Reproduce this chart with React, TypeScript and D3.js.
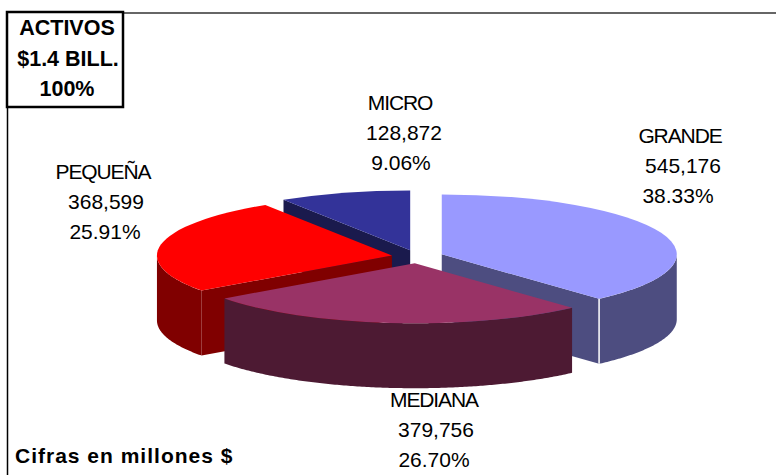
import React from 'react';
import * as d3 from 'd3';

// Figures from the chart, in clockwise order starting at 12 o'clock
const names = ['GRANDE', 'MEDIANA', 'PEQUEÑA', 'MICRO'];
const values = [545176, 379756, 368599, 128872];
const valueLabels = ['545,176', '379,756', '368,599', '128,872'];
const percentLabels = ['38.33%', '26.70%', '25.91%', '9.06%'];
const boxLines = ['ACTIVOS', '$1.4 BILL.', '100%'];
const footnote = 'Cifras en millones $';

const topColors = ['#9999ff', '#993366', '#ff0000', '#333399'];
const sideColors = ['#4d4d80', '#4d1a33', '#800000', '#1a1a4d'];

const width = 776;
const height = 475;
const cx = 417.5;
const cy = 256.7;
const rx = 235;
const tilt = 0.255;
const depth = 65;
const explode = 26;
const font = '"Liberation Sans", Arial, sans-serif';

// label anchor (centre x of each line, first baseline) per slice
const labelPos = [
  { x: [680, 683, 678], y: 143 },
  { x: [434, 436, 434], y: 407 },
  { x: [103, 106, 105], y: 179 },
  { x: [400, 404, 401], y: 110 },
];

const arcs = d3.pie<number>().sort(null)(values);

const project = (a: number, r: number) => [r * Math.sin(a), -r * tilt * Math.cos(a)];

// outer wall of a slice, only the part that faces the viewer
function rimPath(start: number, end: number) {
  const from = Math.max(start, Math.PI / 2);
  const to = Math.min(end, (3 * Math.PI) / 2);
  if (to <= from) return null;
  const angles = d3.range(from, to, 0.01).concat(to);
  return d3.area<number>()
    .x(a => project(a, rx)[0])
    .y0(a => project(a, rx)[1])
    .y1(a => project(a, rx)[1] + depth)(angles);
}

// flat cut wall running from the centre out to the rim
function cutPath(a: number) {
  const [x, y] = project(a, rx);
  return d3.line()([[0, 0], [x, y], [x, y + depth], [0, depth]]) + 'Z';
}

// which cut wall can be seen for each slice (none for MEDIANA)
const cutAngle = (i: number) => {
  if (i === 0) return arcs[0].endAngle;
  if (i === 2) return arcs[2].startAngle;
  if (i === 3) return arcs[3].startAngle;
  return null;
};

const topArc = d3.arc<d3.PieArcDatum<number>>().innerRadius(0).outerRadius(rx);

const drawOrder = [3, 2, 0, 1];

export default function App() {
  return (
    <svg
      width={width}
      height={height}
      viewBox={`0 0 ${width} ${height}`}
      style={{ position: 'absolute', left: 0, top: 0, background: '#fff' }}
      fontFamily={font}
    >
      <line x1={7.5} y1={12} x2={7.5} y2={height} stroke="#000" strokeWidth={1.5} />
      <line x1={7} y1={13} x2={width} y2={13} stroke="#333" strokeWidth={1.5} />

      {drawOrder.map(i => {
        const d = arcs[i];
        const mid = (d.startAngle + d.endAngle) / 2;
        const [ox, oy] = project(mid, explode);
        const cut = cutAngle(i);
        const rim = rimPath(d.startAngle, d.endAngle);
        return (
          <g key={names[i]} transform={`translate(${cx + ox},${cy + oy})`}>
            {cut !== null && <path d={cutPath(cut)} fill={sideColors[i]} />}
            {rim && <path d={rim} fill={sideColors[i]} />}
            {i === 0 && (
              <line
                x1={project(d.endAngle, rx)[0]}
                x2={project(d.endAngle, rx)[0]}
                y1={project(d.endAngle, rx)[1]}
                y2={project(d.endAngle, rx)[1] + depth}
                stroke="#fff"
                strokeWidth={1.5}
              />
            )}
            <path d={topArc(d) as string} transform={`scale(1,${tilt})`} fill={topColors[i]} />
          </g>
        );
      })}

      {names.map((name, i) => (
        <g key={name} fontSize={21} fill="#000" textAnchor="middle">
          <text x={labelPos[i].x[0]} y={labelPos[i].y} letterSpacing={-1.1}>{name}</text>
          <text x={labelPos[i].x[1]} y={labelPos[i].y + 30}>{valueLabels[i]}</text>
          <text x={labelPos[i].x[2]} y={labelPos[i].y + 60}>{percentLabels[i]}</text>
        </g>
      ))}

      <rect x={7} y={12} width={116} height={95} fill="#fff" stroke="#000" strokeWidth={2.5} />
      {boxLines.map((line, i) => (
        <text
          key={line}
          x={i === 1 ? 68 : 67}
          y={35 + i * 30.5}
          textAnchor="middle"
          fontSize={21.5}
          fontWeight="bold"
          fill="#000"
        >
          {line}
        </text>
      ))}

      <text x={15} y={463} fontSize={21} fontWeight="bold" fill="#000" letterSpacing={1}>{footnote}</text>
    </svg>
  );
}
